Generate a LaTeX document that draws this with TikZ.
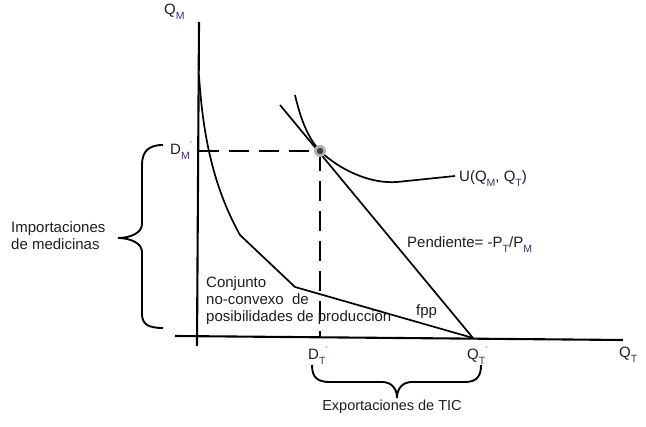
\documentclass[tikz,border=0pt]{standalone}
\usepackage{fontspec}
\setmainfont{Liberation Sans}
\definecolor{subpurple}{RGB}{70,40,110}
\definecolor{txt}{RGB}{30,30,30}
\newcommand{\sbs}[1]{\raisebox{-5pt}{\fontsize{10.5}{10.5}\selectfont\color{subpurple}#1}}
\newcommand{\stp}{\raisebox{9pt}{\fontsize{6}{6}\selectfont\color{gray}*}}
\begin{document}
\begin{tikzpicture}[x=1pt,y=-1pt,
  lbl/.style={inner sep=0pt,anchor=base west,text=txt,font=\fontsize{15}{17}\selectfont},
  mainline/.style={line width=2.1pt,black},
  thinline/.style={line width=1.7pt,black},
  dashline/.style={line width=2.1pt,dash pattern=on 20pt off 10pt},
  bracestyle/.style={line width=1.9pt,black}]
\useasboundingbox (0,0) rectangle (646,427);
% axes
\coordinate (ytop) at (199,22);
\coordinate (ybot) at (197,346);
\coordinate (xleft) at (175,336);
\coordinate (xright) at (623,340);
\draw[mainline] (ytop) -- (ybot);
\draw[mainline] (xleft) -- (xright);
% points
\coordinate (E) at (320,151);
\coordinate (QTs) at (473,338);
\coordinate (DMax) at (199,151);
\coordinate (DTax) at (320,338);
% production frontier
\coordinate (f0) at (199,75);
\coordinate (f1) at (240,235);
\coordinate (f2) at (295,287);
\draw[thinline] (f0) .. controls (203,140) and (215,190) .. (f1) -- (f2) -- (QTs);
% budget line
\coordinate (b0) at (280,105);
\draw[thinline] (b0) -- (QTs);
% indifference curve
\coordinate (u0) at (295,95);
\coordinate (u1) at (397,182);
\coordinate (u2) at (455,176);
\draw[thinline] (u0) .. controls (302,125) and (310,140) .. (E) .. controls (340,170) and (370,184) .. (u1) -- (u2);
% dashed lines
\draw[dashline] (DMax) -- (E);
\draw[dashline] (E) -- (DTax);
% dot
\fill[gray!60] (E) circle (6pt);
\fill[black!75] (E) circle (3.2pt);
% braces
\coordinate (lb0) at (163,145);
\coordinate (lb1) at (163,328);
\draw[bracestyle] (lb0) .. controls (148,145) and (142,152) .. (142,165) -- (142,224)
  .. controls (142,233) and (130,238) .. (118,238)
  .. controls (130,238) and (142,243) .. (142,252) -- (142,314)
  .. controls (142,324) and (148,328) .. (lb1);
\coordinate (bb0) at (312,365);
\coordinate (bb1) at (481,365);
\draw[bracestyle] (bb0) .. controls (312,378) and (318,382) .. (330,382) -- (382,382)
  .. controls (391,382) and (397,388) .. (397,398)
  .. controls (397,388) and (403,382) .. (412,382) -- (465,382)
  .. controls (477,382) and (481,376) .. (bb1);
% labels
\node[lbl] (lQM) at (164,15) {Q\sbs{M}};
\node[lbl] (lDM) at (170,155) {D\sbs{M}\stp};
\node[lbl] (lU) at (459,182) {U(Q\sbs{M}, Q\sbs{T})};
\node[lbl] (lP) at (407,248) {Pendiente= -P\sbs{T}/P\sbs{M}};
\node[lbl] (lfpp) at (416,316) {fpp};
\node[lbl,align=left,anchor=north west] (lC) at (206,276) {Conjunto\\no-convexo\ \ de\\posibilidades de producción};
\node[lbl] (lDT) at (308,360) {D\sbs{T}\stp};
\node[lbl] (lQTs) at (467,360) {Q\sbs{T}\stp};
\node[lbl] (lQT) at (619,358) {Q\sbs{T}};
\node[lbl,align=left,anchor=north west] (lI) at (11,221) {Importaciones\\de medicinas};
\node[lbl,anchor=base,font=\fontsize{14.5}{17}\selectfont] (lE) at (392,411) {Exportaciones de TIC};
\end{tikzpicture}
\end{document}
